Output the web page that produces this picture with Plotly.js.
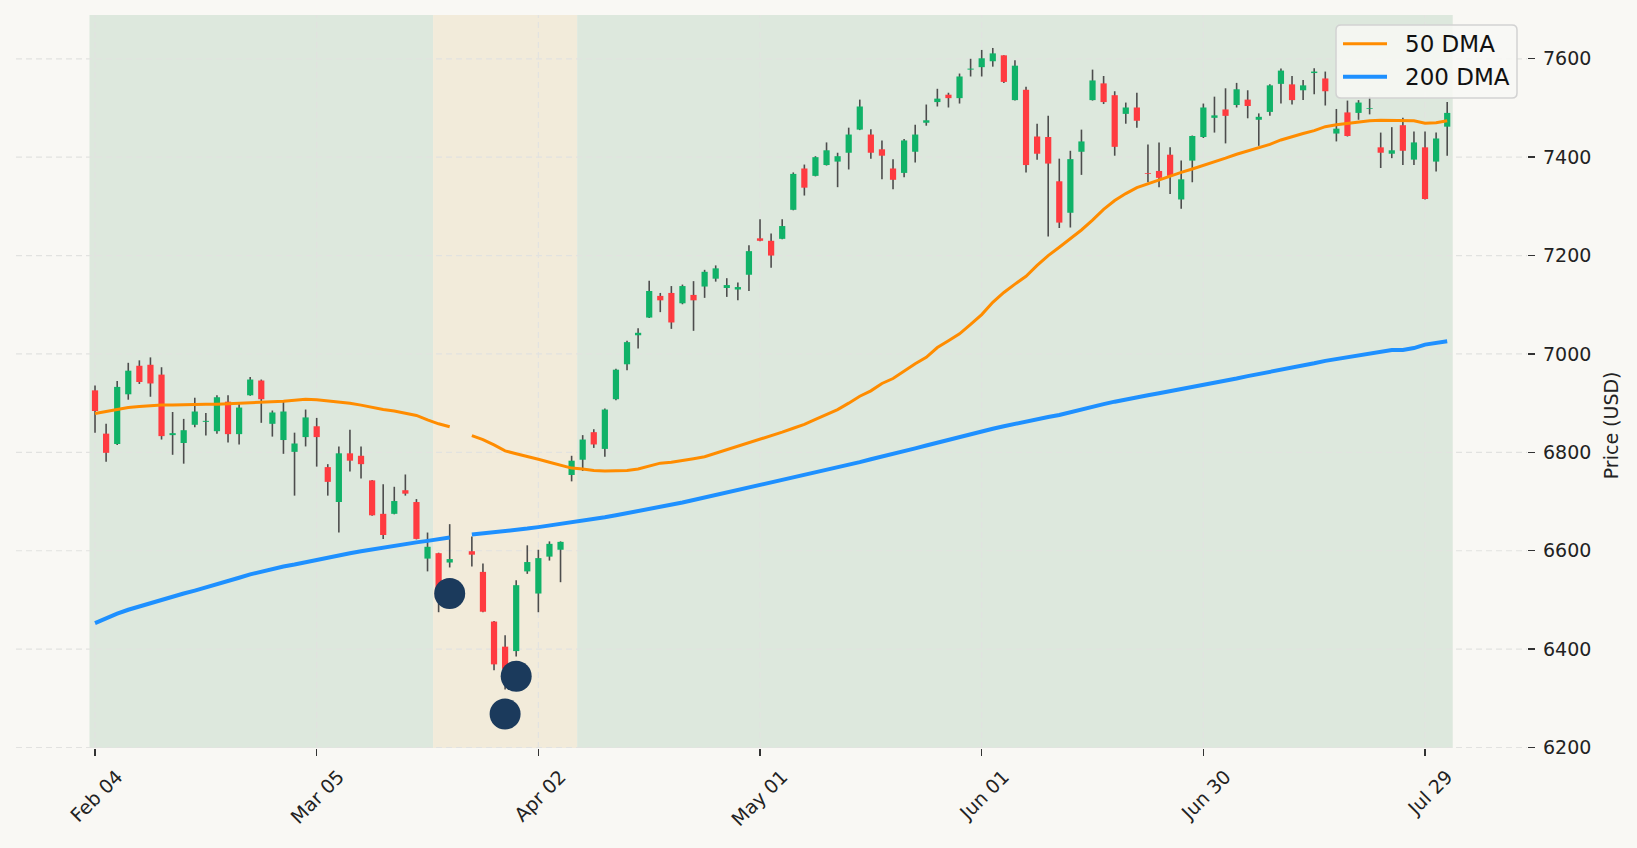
<!DOCTYPE html>
<html>
<head>
<meta charset="utf-8">
<script src="https://cdn.plot.ly/plotly-3.0.1.min.js"></script>
<style>
  html, body { margin: 0; padding: 0; background: #f9f8f4; }
  #chart { width: 1637px; height: 848px; }
</style>
</head>
<body>
<div id="chart"></div>
<script>
// trading-day index labels
var tickPos = [0, 20, 40, 60, 80, 100, 120];
var tickLabels = ['Feb 04', 'Mar 05', 'Apr 02', 'May 01', 'Jun 01', 'Jun 30', 'Jul 29'];
var priceTicks = [6200, 6400, 6600, 6800, 7000, 7200, 7400, 7600];

// OHLC, one value per trading day (day 33 has no data)
var open = [6926,6838,6817,6918,6976,6978,6958,6835,6819,6856,6862,6843,6903,6837,6916,6946,6858,6825,6801,6831,
  6853,6770,6699,6798,6793,6743,6675,6675,6723,6699,6584,6595,6576,null,6599,6557,6456,6405,6396,6558,
  6513,6588,6602,6754,6785,6841,6807,6908,6979,7038,7074,7118,7124,7103,7120,7137,7153,7134,7131,7161,
  7235,7230,7234,7293,7377,7362,7384,7391,7409,7456,7446,7416,7377,7368,7411,7470,7512,7527,7520,7578,
  7583,7595,7607,7516,7537,7442,7441,7351,7287,7411,7516,7550,7526,7488,7501,7367,7372,7405,7314,7393,
  7441,7480,7497,7506,7517,7476,7492,7549,7548,7536,7571,7560,7448,7491,7490,7498,7420,7407,7465,7395,
  7420,7391,7462];
var high = [6936,6858,6945,6982,6987,6993,6973,6882,6868,6911,6880,6916,6916,6899,6953,6948,6885,6904,6840,6887,
  6870,6776,6812,6846,6812,6744,6735,6730,6755,6705,6637,6596,6654,null,6629,6574,6457,6428,6540,6611,
  6602,6619,6619,6793,6835,6847,6889,6970,7027,7052,7149,7124,7138,7141,7148,7171,7180,7154,7145,7221,
  7274,7245,7274,7369,7385,7402,7430,7409,7460,7517,7457,7434,7396,7437,7466,7507,7539,7531,7570,7600,
  7618,7622,7607,7597,7543,7468,7484,7397,7413,7456,7578,7565,7534,7511,7531,7426,7430,7420,7393,7444,
  7509,7523,7540,7551,7536,7489,7548,7580,7565,7557,7581,7574,7498,7515,7516,7523,7450,7461,7480,7452,
  7452,7450,7512];
var low = [6840,6781,6815,6907,6939,6913,6826,6795,6777,6851,6834,6838,6820,6816,6915,6860,6832,6797,6712,6812,
  6771,6712,6637,6761,6747,6671,6624,6674,6712,6623,6558,6475,6566,null,6568,6475,6357,6318,6385,6553,
  6475,6580,6536,6741,6762,6809,6791,6906,6967,7011,7073,7085,7051,7101,7047,7114,7147,7116,7109,7128,
  7229,7175,7233,7292,7322,7361,7383,7339,7375,7455,7397,7355,7335,7359,7389,7464,7503,7501,7509,7564,
  7564,7584,7551,7515,7369,7395,7239,7256,7257,7364,7515,7508,7403,7468,7460,7349,7339,7325,7295,7349,
  7439,7450,7428,7501,7479,7423,7484,7509,7507,7516,7528,7505,7432,7442,7476,7487,7378,7398,7384,7384,
  7314,7371,7403];
var close = [6884,6799,6933,6966,6943,6940,6833,6839,6845,6883,6864,6912,6837,6891,6948,6908,6881,6883,6818,6871,
  6831,6740,6798,6783,6776,6672,6632,6701,6716,6624,6608,6518,6583,null,6592,6476,6369,6360,6530,6577,
  6585,6614,6618,6783,6826,6816,6887,6968,7024,7043,7128,7109,7064,7138,7109,7167,7174,7140,7136,7209,
  7230,7200,7260,7366,7338,7400,7414,7402,7446,7503,7409,7403,7354,7434,7446,7475,7519,7520,7564,7580,
  7601,7611,7553,7586,7384,7407,7387,7267,7396,7432,7556,7512,7421,7501,7474,7366,7358,7362,7355,7443,
  7501,7485,7484,7538,7504,7482,7546,7576,7516,7546,7574,7534,7458,7443,7511,7499,7409,7414,7413,7430,
  7315,7438,7490];

// moving averages
var dma50 = [6879,6883,6887,6891,6893,6895,6896,6896,6897,6897,6898,6898,6899,6899,6900,6901,6902,6904,6906,6908,
  6907,6905,6902,6900,6896,6891,6887,6884,6880,6875,6866,6858,6852,null,6834,6826,6815,6803,6797,6792,
  6786,6780,6774,6768,6766,6763,6762,6762,6763,6766,6772,6778,6780,6783,6787,6791,6798,6806,6813,6819,
  6826,6833,6841,6849,6857,6867,6877,6887,6900,6914,6925,6940,6950,6965,6980,6993,7013,7027,7041,7060,
  7080,7105,7125,7142,7158,7180,7200,7217,7235,7252,7272,7294,7312,7326,7338,7346,7354,7362,7369,7376,
  7383,7391,7398,7406,7413,7420,7426,7435,7442,7448,7454,7462,7466,7469,7472,7474,7475,7475,7475,7474,
  7469,7470,7474];
var dma200 = [6453,6463,6472,6480,6487,6494,6501,6507,6513,6519,6525,6532,6538,6545,6552,6558,6563,6568,6572,6577,
  6581,6585,6590,6595,6599,6603,6607,6610,6614,6617,6620,6624,6627,null,6633,6635,6637,6639,6642,6645,
  6648,6651,6654,6658,6661,6665,6668,6672,6676,6680,6685,6689,6694,6698,6703,6708,6713,6718,6723,6728,
  6733,6738,6743,6748,6754,6759,6764,6769,6775,6780,6786,6791,6797,6803,6808,6814,6820,6826,6832,6837,
  6842,6848,6853,6858,6864,6868,6872,6876,6882,6888,6893,6898,6903,6908,6912,6916,6920,6924,6929,6933,
  6937,6941,6946,6950,6955,6959,6964,6969,6973,6977,6981,6986,6990,6994,6997,7001,7005,7008,7008,7012,
  7019,7023,7026];

// signal dots
var signalDay = [32, 37, 38];
var signalPrice = [6513, 6268, 6345];

// shaded regimes (trading-day index bounds)
var regimeStart = [-0.5, 30.5, 43.5];
var regimeEnd = [30.5, 43.5, 122.5];
var regimeColor = ['#dde8dd', '#f2ebda', '#dde8dd'];

var legendNames = ['50 DMA', '200 DMA'];
var ORANGE = '#ff8c00', BLUE = '#1e90ff';
var GREEN = '#10b268', RED = '#ff3b40';
var GRID = '#e2e2e0';

var days = open.map(function(v, i){ return i; });

var wickX = [], wickY = [];
days.forEach(function(d, i){
    if (open[i] == null) return;
    wickX.push(d, d, null);
    wickY.push(low[i], high[i], null);
});

var bodyBase = [], bodyLen = [], bodyCol = [];
days.forEach(function(d, i){
    if (open[i] == null) { bodyBase.push(null); bodyLen.push(null); bodyCol.push(GREEN); return; }
    bodyBase.push(Math.min(open[i], close[i]));
    bodyLen.push(Math.max(Math.abs(close[i] - open[i]), 1.5));
    bodyCol.push(close[i] >= open[i] ? GREEN : RED);
});

var wicks = {
    x: wickX, y: wickY, type: 'scatter', mode: 'lines',
    line: {color: '#4d4d4d', width: 1.6},
    hoverinfo: 'skip', zorder: 0
};
var bodies = {
    x: days, y: bodyLen, base: bodyBase, type: 'bar', width: 0.56,
    marker: {color: bodyCol, line: {width: 0}},
    hoverinfo: 'skip', zorder: 1
};
var ma50 = {
    x: days, y: dma50, type: 'scatter', mode: 'lines', name: legendNames[0],
    line: {color: ORANGE, width: 3}, connectgaps: false, zorder: 2
};
var ma200 = {
    x: days, y: dma200, type: 'scatter', mode: 'lines', name: legendNames[1],
    line: {color: BLUE, width: 4}, connectgaps: false, zorder: 2
};
var dots = {
    x: signalDay, y: signalPrice, type: 'scatter', mode: 'markers',
    marker: {color: '#1b3a5c', size: 31, line: {width: 0}},
    hoverinfo: 'skip', zorder: 3
};

// shading first, then dashed grid drawn over it
var shapes = regimeStart.map(function(s, i){
    return {
        type: 'rect', xref: 'x', yref: 'paper',
        x0: s, x1: regimeEnd[i], y0: 0, y1: 1,
        fillcolor: regimeColor[i], line: {width: 0}, layer: 'below'
    };
});
tickPos.forEach(function(t){
    shapes.push({type: 'line', xref: 'x', yref: 'paper', x0: t, x1: t, y0: 0, y1: 1,
        line: {color: GRID, width: 1.2, dash: '6px,4px'}, layer: 'below'});
});
priceTicks.forEach(function(p){
    shapes.push({type: 'line', xref: 'paper', yref: 'y', x0: 0, x1: 1, y0: p, y1: p,
        line: {color: GRID, width: 1.2, dash: '6px,4px'}, layer: 'below'});
});

// legend box, anchored to the top-right corner of the plot (pixel offsets)
function px(extra){
    var s = {xref: 'paper', yref: 'paper', xsizemode: 'pixel', ysizemode: 'pixel',
             xanchor: 1, yanchor: 1, layer: 'above'};
    for (var k in extra) s[k] = extra[k];
    return s;
}
shapes.push(px({
    type: 'path',
    path: 'M -186,-10 L -15,-10 Q -10,-10 -10,-15 L -10,-78 Q -10,-83 -15,-83 ' +
          'L -186,-83 Q -191,-83 -191,-78 L -191,-15 Q -191,-10 -186,-10 Z',
    fillcolor: 'rgba(248,248,245,0.86)', line: {color: '#d2d2d2', width: 1.5}
}));
var legendColors = [ORANGE, BLUE], legendWidths = [3, 4], legendRow = [-28.7, -61.7];
var annotations = [{
    text: 'Price (USD)', xref: 'paper', yref: 'paper',
    x: 1.0558, y: 0.4407, xanchor: 'center', yanchor: 'middle',
    textangle: -90, showarrow: false, font: {size: 19, color: '#222'}
}];
legendNames.forEach(function(n, i){
    shapes.push(px({type: 'line', x0: -184, x1: -140, y0: legendRow[i], y1: legendRow[i],
        line: {color: legendColors[i], width: legendWidths[i]}}));
    annotations.push({text: n, xref: 'paper', yref: 'paper', x: 1, y: 1,
        xshift: -124, yshift: legendRow[i], xanchor: 'left', yanchor: 'middle',
        showarrow: false, font: {size: 23, color: '#111'}});
});

var layout = {
    width: 1637, height: 848,
    paper_bgcolor: '#f9f8f4',
    plot_bgcolor: '#f9f8f4',
    font: {family: 'DejaVu Sans, sans-serif', size: 19, color: '#222'},
    margin: {l: 16, r: 110, t: 15, b: 100},
    showlegend: false,
    barmode: 'overlay',
    hovermode: false,
    shapes: shapes,
    annotations: annotations,
    xaxis: {
        range: [-7.13, 129.2],
        tickvals: tickPos, ticktext: tickLabels,
        tickangle: -45, ticklabelshift: 22, ticklabelstandoff: 2,
        ticks: 'outside', ticklen: 7, tickwidth: 1.4, tickcolor: '#333',
        showgrid: false, zeroline: false,
        showline: true, mirror: true, linecolor: '#e8e8e6', linewidth: 1.2
    },
    yaxis: {
        side: 'right',
        range: [6199, 7689],
        tickvals: priceTicks,
        ticks: 'outside', ticklen: 7, tickwidth: 1.4, tickcolor: '#333',
        ticklabelstandoff: 4,
        showgrid: false, zeroline: false,
        showline: true, mirror: true, linecolor: '#e8e8e6', linewidth: 1.2
    }
};

Plotly.newPlot('chart', [wicks, bodies, ma50, ma200, dots], layout, {displayModeBar: false, staticPlot: true});
</script>
</body>
</html>
